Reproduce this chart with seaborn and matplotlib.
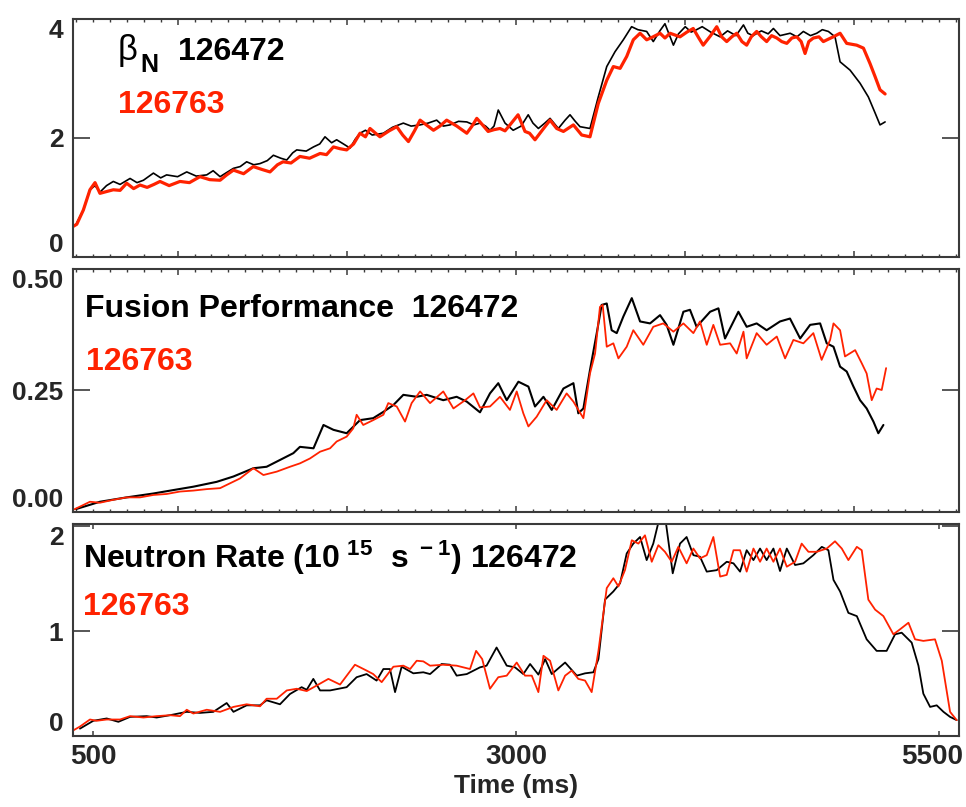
import seaborn as sns
import matplotlib.pyplot as plt
from matplotlib import font_manager
from matplotlib.ticker import MultipleLocator
from matplotlib.transforms import ScaledTranslation

# beta_N, shot 126472 (black) and 126763 (red)
t_beta_black = [400, 443, 482, 512, 541, 580, 620, 660, 719, 760, 798, 857, 900, 935, 1000, 1054, 1110, 1172,
                1210, 1251, 1290, 1330, 1370, 1408, 1450, 1487, 1530, 1566, 1610, 1645, 1680, 1704, 1760, 1803,
                1840, 1871, 1910, 1940, 1980, 2019, 2050, 2078, 2110, 2150, 2216, 2270, 2334, 2380, 2433, 2480,
                2531, 2570, 2610, 2660, 2709, 2750, 2787, 2820, 2846, 2870, 2895, 2935, 2983, 3030, 3072, 3100,
                3132, 3170, 3201, 3250, 3290, 3319, 3350, 3378, 3437, 3486, 3536, 3585, 3634, 3683, 3720, 3772,
                3811, 3850, 3880, 3930, 3960, 4000, 4035, 4067, 4100, 4150, 4206, 4250, 4300, 4344, 4370, 4400,
                4450, 4490, 4521, 4560, 4620, 4660, 4698, 4740, 4777, 4810, 4846, 4885, 4915, 4974, 5033, 5082,
                5122, 5151, 5181]
beta_black = [0.55, 0.79, 1.13, 1.20, 1.09, 1.20, 1.27, 1.22, 1.32, 1.25, 1.29, 1.41, 1.33, 1.38, 1.35, 1.43,
              1.36, 1.38, 1.45, 1.35, 1.42, 1.49, 1.52, 1.60, 1.55, 1.57, 1.62, 1.71, 1.66, 1.63, 1.75, 1.80,
              1.78, 1.85, 1.90, 2.02, 1.92, 1.97, 1.90, 1.83, 1.98, 2.08, 2.13, 2.05, 2.08, 2.18, 2.25, 2.20,
              2.22, 2.25, 2.30, 2.20, 2.22, 2.28, 2.27, 2.22, 2.25, 2.20, 2.13, 2.20, 2.47, 2.25, 2.13, 2.20,
              2.39, 2.25, 2.16, 2.25, 2.33, 2.16, 2.30, 2.39, 2.28, 2.19, 2.16, 2.69, 3.20, 3.45, 3.65, 3.87,
              3.82, 3.79, 3.62, 3.80, 3.92, 3.56, 3.75, 3.87, 3.78, 3.82, 3.87, 3.78, 3.70, 3.80, 3.72, 3.90,
              3.76, 3.72, 3.80, 3.75, 3.84, 3.72, 3.76, 3.70, 3.79, 3.72, 3.76, 3.82, 3.79, 3.70, 3.28, 3.14,
              2.92, 2.69, 2.42, 2.22, 2.27]
t_beta_red = [380, 404, 443, 482, 512, 541, 580, 620, 660, 699, 740, 778, 820, 860, 896, 950, 1014, 1070, 1132,
              1190, 1251, 1290, 1330, 1390, 1447, 1500, 1546, 1590, 1623, 1670, 1723, 1780, 1842, 1880, 1921,
              1960, 1999, 2040, 2078, 2110, 2137, 2170, 2196, 2250, 2295, 2330, 2364, 2400, 2433, 2470, 2512,
              2550, 2590, 2650, 2709, 2740, 2768, 2787, 2835, 2870, 2905, 2935, 2964, 3012, 3053, 3080, 3112,
              3160, 3201, 3240, 3280, 3339, 3388, 3437, 3486, 3536, 3575, 3615, 3654, 3693, 3733, 3772, 3810,
              3851, 3880, 3910, 3969, 4010, 4047, 4080, 4106, 4150, 4186, 4215, 4245, 4275, 4304, 4335, 4363,
              4390, 4422, 4450, 4481, 4510, 4541, 4570, 4600, 4630, 4659, 4685, 4708, 4730, 4757, 4790, 4816,
              4845, 4875, 4915, 4954, 5013, 5053, 5092, 5122, 5151, 5181]
beta_red = [0.51, 0.55, 0.79, 1.13, 1.25, 1.07, 1.10, 1.13, 1.12, 1.24, 1.15, 1.21, 1.17, 1.22, 1.27, 1.20,
            1.27, 1.25, 1.35, 1.30, 1.29, 1.38, 1.46, 1.40, 1.52, 1.47, 1.43, 1.55, 1.60, 1.58, 1.69, 1.66,
            1.74, 1.72, 1.85, 1.82, 1.80, 1.90, 2.08, 2.02, 2.16, 2.08, 2.02, 2.12, 2.19, 2.05, 1.94, 2.12,
            2.30, 2.22, 2.13, 2.20, 2.30, 2.20, 2.08, 2.20, 2.33, 2.27, 2.11, 2.14, 2.16, 2.12, 2.22, 2.39,
            2.11, 2.08, 1.97, 2.15, 2.30, 2.16, 2.11, 2.22, 2.05, 2.02, 2.58, 2.97, 3.20, 3.17, 3.37, 3.65,
            3.76, 3.65, 3.70, 3.76, 3.68, 3.76, 3.70, 3.78, 3.84, 3.68, 3.56, 3.72, 3.87, 3.70, 3.62, 3.70,
            3.76, 3.62, 3.56, 3.70, 3.79, 3.70, 3.62, 3.72, 3.68, 3.62, 3.59, 3.68, 3.70, 3.62, 3.42, 3.62,
            3.68, 3.70, 3.62, 3.66, 3.70, 3.76, 3.59, 3.56, 3.51, 3.25, 3.03, 2.81, 2.74]

# fusion performance
t_fus_black = [400, 541, 699, 857, 974, 1093, 1231, 1330, 1448, 1526, 1605, 1684, 1723, 1803, 1862, 1921, 1999,
               2078, 2156, 2216, 2275, 2334, 2413, 2472, 2570, 2649, 2709, 2787, 2846, 2895, 2945, 3014, 3073,
               3112, 3162, 3211, 3280, 3339, 3368, 3398, 3437, 3477, 3506, 3536, 3565, 3595, 3634, 3684, 3733,
               3792, 3851, 3890, 3930, 3989, 4028, 4067, 4147, 4196, 4235, 4314, 4363, 4422, 4481, 4560, 4619,
               4679, 4738, 4797, 4836, 4876, 4915, 4954, 4994, 5033, 5072, 5112, 5141, 5171]
fus_black = [0.006, 0.021, 0.030, 0.038, 0.045, 0.052, 0.062, 0.073, 0.090, 0.093, 0.107, 0.121, 0.134, 0.131,
             0.179, 0.169, 0.162, 0.189, 0.193, 0.206, 0.220, 0.241, 0.237, 0.241, 0.230, 0.237, 0.227, 0.205,
             0.244, 0.265, 0.230, 0.268, 0.258, 0.217, 0.237, 0.210, 0.254, 0.265, 0.203, 0.213, 0.292, 0.368,
             0.426, 0.429, 0.374, 0.368, 0.402, 0.440, 0.392, 0.388, 0.405, 0.385, 0.344, 0.412, 0.416, 0.381,
             0.412, 0.419, 0.357, 0.412, 0.381, 0.388, 0.374, 0.392, 0.398, 0.357, 0.385, 0.388, 0.347, 0.340,
             0.299, 0.289, 0.258, 0.230, 0.213, 0.186, 0.162, 0.179]
t_fus_red = [380, 423, 482, 541, 620, 699, 778, 857, 935, 1014, 1093, 1172, 1251, 1310, 1369, 1448, 1507, 1586,
             1664, 1723, 1782, 1842, 1901, 1940, 1999, 2038, 2058, 2097, 2156, 2216, 2245, 2295, 2344, 2383,
             2433, 2492, 2570, 2630, 2699, 2748, 2787, 2846, 2905, 2964, 3004, 3043, 3073, 3122, 3181, 3240,
             3299, 3339, 3398, 3437, 3467, 3496, 3512, 3536, 3575, 3605, 3654, 3693, 3752, 3811, 3870, 3930,
             3989, 4048, 4087, 4127, 4166, 4206, 4265, 4304, 4344, 4363, 4422, 4481, 4541, 4590, 4639, 4698,
             4757, 4806, 4856, 4876, 4915, 4944, 5004, 5043, 5072, 5102, 5131, 5161, 5187]
fus_red = [0.004, 0.011, 0.021, 0.019, 0.025, 0.030, 0.030, 0.035, 0.037, 0.042, 0.044, 0.047, 0.049, 0.059,
           0.069, 0.090, 0.076, 0.083, 0.093, 0.100, 0.110, 0.124, 0.131, 0.145, 0.155, 0.172, 0.200, 0.179,
           0.189, 0.200, 0.224, 0.217, 0.186, 0.224, 0.248, 0.224, 0.248, 0.213, 0.230, 0.244, 0.215, 0.217,
           0.237, 0.210, 0.248, 0.203, 0.176, 0.196, 0.230, 0.210, 0.244, 0.227, 0.193, 0.285, 0.326, 0.422,
           0.426, 0.340, 0.347, 0.316, 0.340, 0.374, 0.344, 0.381, 0.388, 0.371, 0.388, 0.368, 0.392, 0.344,
           0.385, 0.344, 0.347, 0.326, 0.371, 0.316, 0.368, 0.344, 0.361, 0.316, 0.354, 0.347, 0.368, 0.313,
           0.354, 0.388, 0.374, 0.320, 0.333, 0.306, 0.285, 0.230, 0.254, 0.251, 0.296]

# neutron rate (1e15 /s)
t_neu_black = [423, 502, 581, 650, 719, 817, 876, 955, 1054, 1133, 1211, 1290, 1330, 1408, 1487, 1526, 1605,
               1664, 1733, 1763, 1802, 1842, 1901, 1999, 2058, 2117, 2176, 2216, 2255, 2285, 2324, 2393, 2452,
               2492, 2560, 2610, 2649, 2709, 2787, 2826, 2885, 2945, 2994, 3043, 3083, 3132, 3172, 3211, 3290,
               3359, 3408, 3457, 3487, 3526, 3575, 3615, 3654, 3693, 3733, 3772, 3811, 3851, 3880, 3926, 3969,
               4008, 4048, 4087, 4127, 4186, 4245, 4285, 4324, 4363, 4403, 4442, 4481, 4521, 4560, 4600, 4649,
               4698, 4757, 4807, 4846, 4876, 4915, 4964, 5014, 5072, 5131, 5190, 5240, 5279, 5338, 5378, 5407,
               5447, 5486, 5526, 5565, 5604]
neu_black = [0.07, 0.145, 0.167, 0.135, 0.182, 0.189, 0.176, 0.198, 0.23, 0.22, 0.23, 0.314, 0.23, 0.292,
             0.292, 0.34, 0.302, 0.40, 0.465, 0.44, 0.544, 0.434, 0.434, 0.465, 0.56, 0.59, 0.528, 0.638, 0.638,
             0.418, 0.66, 0.597, 0.607, 0.59, 0.686, 0.679, 0.575, 0.59, 0.654, 0.67, 0.843, 0.67, 0.654, 0.59,
             0.686, 0.585, 0.733, 0.59, 0.70, 0.575, 0.597, 0.607, 0.733, 1.30, 1.377, 1.456, 1.739, 1.833,
             1.896, 1.676, 1.833, 2.10, 2.10, 1.55, 1.833, 1.896, 1.723, 1.708, 1.566, 1.58, 1.66, 1.645, 1.566,
             1.77, 1.676, 1.786, 1.676, 1.786, 1.572, 1.786, 1.629, 1.645, 1.723, 1.802, 1.77, 1.487, 1.377,
             1.173, 1.142, 0.921, 0.811, 0.811, 0.969, 0.984, 0.89, 0.67, 0.403, 0.277, 0.292, 0.23, 0.182,
             0.151]
t_neu_red = [380, 423, 482, 522, 581, 660, 719, 798, 876, 955, 1014, 1054, 1093, 1172, 1251, 1330, 1408, 1487,
             1526, 1586, 1645, 1704, 1763, 1822, 1891, 1960, 2048, 2117, 2156, 2206, 2275, 2334, 2374, 2413,
             2452, 2492, 2570, 2649, 2728, 2764, 2800, 2846, 2895, 2945, 3004, 3053, 3093, 3132, 3162, 3201,
             3250, 3290, 3329, 3368, 3408, 3447, 3487, 3536, 3575, 3605, 3644, 3684, 3723, 3762, 3802, 3841,
             3880, 3920, 3959, 4008, 4048, 4087, 4127, 4166, 4206, 4245, 4285, 4324, 4363, 4403, 4442, 4481,
             4521, 4560, 4600, 4649, 4688, 4728, 4777, 4836, 4885, 4925, 4964, 5014, 5043, 5082, 5122, 5171,
             5230, 5269, 5319, 5358, 5407, 5476, 5516, 5565, 5604]
neu_red = [0.05, 0.09, 0.157, 0.145, 0.157, 0.157, 0.189, 0.176, 0.189, 0.198, 0.189, 0.25, 0.214, 0.25, 0.23,
           0.277, 0.302, 0.283, 0.355, 0.355, 0.434, 0.45, 0.428, 0.481, 0.544, 0.49, 0.679, 0.623, 0.59,
           0.513, 0.66, 0.67, 0.638, 0.717, 0.711, 0.67, 0.679, 0.67, 0.638, 0.811, 0.733, 0.45, 0.56, 0.575,
           0.70, 0.575, 0.575, 0.418, 0.764, 0.717, 0.434, 0.575, 0.623, 0.544, 0.528, 0.418, 0.811, 1.409,
           1.503, 1.425, 1.582, 1.865, 1.833, 1.912, 1.66, 1.818, 1.755, 1.66, 1.802, 1.645, 1.786, 1.692,
           1.723, 1.896, 1.519, 1.535, 1.77, 1.77, 1.566, 1.786, 1.66, 1.786, 1.66, 1.786, 1.613, 1.66, 1.833,
           1.755, 1.755, 1.786, 1.855, 1.786, 1.676, 1.802, 1.77, 1.299, 1.204, 1.142, 0.969, 1.016, 1.079,
           0.921, 0.906, 0.921, 0.717, 0.23, 0.151]

RED = '#ff2200'
FRAME = '#3a3a3a'

sns.set_theme(style='ticks')
available = {f.name for f in font_manager.fontManager.ttflist}
if 'Liberation Sans Narrow' in available:
    LABEL_FONT, LABEL_SIZE = 'Liberation Sans Narrow', 27
else:
    LABEL_FONT, LABEL_SIZE = 'Liberation Sans', 23
plt.rcParams['font.family'] = ['Liberation Sans', 'DejaVu Sans']
plt.rcParams['mathtext.fontset'] = 'custom'
plt.rcParams['mathtext.rm'] = LABEL_FONT
plt.rcParams['mathtext.default'] = 'regular'

fig = plt.figure(figsize=(9.66, 8.07), dpi=100)
rects = [(0.0756, 0.6815, 0.9172, 0.2950),
         (0.0756, 0.3656, 0.9172, 0.3011),
         (0.0756, 0.0880, 0.9172, 0.2627)]
axes = [fig.add_axes(r) for r in rects]
ax_b, ax_f, ax_n = axes

sns.lineplot(x=t_beta_black, y=beta_black, ax=ax_b, color='black', lw=1.2, estimator=None, sort=False)
sns.lineplot(x=t_beta_red, y=beta_red, ax=ax_b, color=RED, lw=2.3, estimator=None, sort=False)
sns.lineplot(x=t_fus_black, y=fus_black, ax=ax_f, color='black', lw=1.5, estimator=None, sort=False)
sns.lineplot(x=t_fus_red, y=fus_red, ax=ax_f, color=RED, lw=1.3, estimator=None, sort=False)
sns.lineplot(x=t_neu_black, y=neu_black, ax=ax_n, color='black', lw=1.3, estimator=None, sort=False)
sns.lineplot(x=t_neu_red, y=neu_red, ax=ax_n, color=RED, lw=1.3, estimator=None, sort=False)

ylims = [(0, 4), (0, 0.5), (0, 2.02)]
yticks = [[0, 2, 4], [0, 0.25, 0.5], [0, 1, 2]]
ylabels = [['0', '2', '4'], ['0.00', '0.25', '0.50'], ['0', '1', '2']]

for ax, yl, yt, ytl in zip(axes, ylims, yticks, ylabels):
    ax.set_xlim(382, 5618)
    ax.set_ylim(*yl)
    ax.set_yticks(yt)
    ax.set_yticklabels(ytl, fontsize=19, fontweight='bold')
    ax.set_xlabel('')
    ax.set_ylabel('')
    for s in ax.spines.values():
        s.set_visible(True)
        s.set_color(FRAME)
        s.set_linewidth(1.5)
    ax.tick_params(axis='y', which='major', direction='in', length=12, width=1.2,
                   color=FRAME, left=True, right=True, pad=7)
    labs = ax.get_yticklabels()
    labs[0].set_verticalalignment('bottom')
    labs[-1].set_verticalalignment('top')

for ax in (ax_b, ax_f):
    ax.xaxis.set_major_locator(MultipleLocator(1000))
    ax.xaxis.set_minor_locator(MultipleLocator(100))
    ax.tick_params(axis='x', which='major', direction='in', length=4, width=1.1, color=FRAME,
                   top=True, bottom=True, labelbottom=False)
    ax.tick_params(axis='x', which='minor', direction='in', length=2, width=1.0, color=FRAME,
                   top=True, bottom=True)

ax_n.set_xticks([500, 3000, 5500])
ax_n.set_xticklabels(['500', '3000', '5500'], fontsize=20, fontweight='bold')
ax_n.tick_params(axis='x', which='major', direction='in', length=3.5, width=1.1, color=FRAME,
                 top=True, bottom=True, pad=6)
ax_n.set_xlabel('Time (ms)', fontsize=19, fontweight='bold', labelpad=3)
# last label sits against the figure edge, nudge it left a little
last = ax_n.get_xticklabels()[-1]
last.set_transform(last.get_transform() + ScaledTranslation(-0.07, 0, fig.dpi_scale_trans))

# top panel labels
ax_b.text(0.0508, 0.828, '\u03b2', transform=ax_b.transAxes, fontsize=25, family='Liberation Sans',
          va='baseline', color='black')
ax_b.text(0.0756, 0.777, 'N', transform=ax_b.transAxes, fontsize=LABEL_SIZE - 5, fontweight='bold',
          family=LABEL_FONT, va='baseline', color='black')
ax_b.text(0.1185, 0.828, '126472', transform=ax_b.transAxes, fontsize=LABEL_SIZE, fontweight='bold',
          family=LABEL_FONT, va='baseline', color='black')
ax_b.text(0.0508, 0.605, '126763', transform=ax_b.transAxes, fontsize=LABEL_SIZE, fontweight='bold',
          family=LABEL_FONT, va='baseline', color=RED)

ax_f.text(0.0135, 0.802, 'Fusion Performance  126472', transform=ax_f.transAxes, fontsize=LABEL_SIZE,
          fontweight='bold', family=LABEL_FONT, va='baseline', color='black')
ax_f.text(0.0147, 0.584, '126763', transform=ax_f.transAxes, fontsize=LABEL_SIZE, fontweight='bold',
          family=LABEL_FONT, va='baseline', color=RED)

ax_n.text(0.0113, 0.792, r'Neutron Rate (10$^{\ 15}$  s$^{\ -1}$) 126472', transform=ax_n.transAxes,
          fontsize=LABEL_SIZE, fontweight='bold', family=LABEL_FONT, va='baseline', color='black')
ax_n.text(0.0113, 0.571, '126763', transform=ax_n.transAxes, fontsize=LABEL_SIZE, fontweight='bold',
          family=LABEL_FONT, va='baseline', color=RED)

fig.savefig('out.png', dpi=100, facecolor='white')
